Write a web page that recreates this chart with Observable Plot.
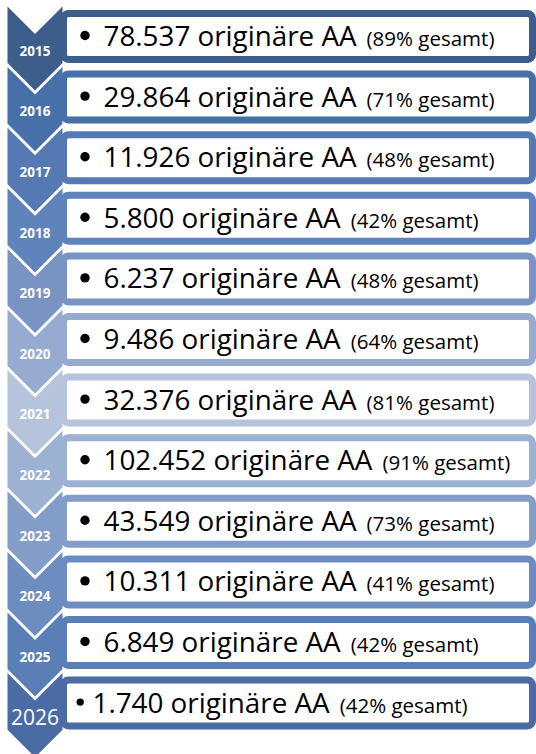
<!DOCTYPE html>
<html>
<head>
<meta charset="utf-8">
<script src="https://cdn.jsdelivr.net/npm/d3@7"></script>
<script src="https://cdn.jsdelivr.net/npm/@observablehq/plot@0.6"></script>
<style>
  html, body { margin: 0; padding: 0; background: #fff; }
  #chart svg { display: block; }
</style>
</head>
<body>
<div id="chart"></div>
<script>
// ---- data ----
const years = ["2015","2016","2017","2018","2019","2020","2021","2022","2023","2024","2025","2026"];
const originaereAA = [78537, 29864, 11926, 5800, 6237, 9486, 32376, 102452, 43549, 10311, 6849, 1740];
const anteilGesamt = [89, 71, 48, 42, 48, 64, 81, 91, 73, 41, 42, 42];

// ---- style ----
const palette = ["#3d5d8b","#4870a8","#5479b3","#5f83bb","#7993c3","#96abcf",
                 "#b5c3dc","#9db1d2","#819dc8","#6d8dc0","#5a7fb7","#4a6ba3"];
const FONT = "'Open Sans', sans-serif";
const W = 536, H = 754;
const pitch = 60.6;
const mainSize = 27.8, smallSize = 20.5;

const de = d3.formatLocale({decimal: ",", thousands: ".", grouping: [3], currency: ["", " €"]});
const fmt = de.format(",");

const rows = years.map((year, i) => ({
  i, year,
  last: i === years.length - 1,
  main: `${fmt(originaereAA[i])} originäre AA`,
  small: `(${anteilGesamt[i]}% gesamt)`
}));

// text measuring (layout only)
const ctx = document.createElement("canvas").getContext("2d");
function measure(str, size) { ctx.font = `${size}px 'Open Sans'`; return ctx.measureText(str).width; }

const chevTop = i => 6 + i * pitch;
const boxTop = i => 10 + i * pitch;
const cx1 = 7, cx2 = 62, cxm = (cx1 + cx2) / 2, notch = 27.5, sideH = pitch - 4;

rows.forEach(r => {
  r.mainX = r.last ? 92 : 103;
  r.baseY = boxTop(r.i) + 35.5;
  r.smallX = r.mainX + measure(r.main, mainSize) + 10;
  r.bulletX = r.last ? 79.7 : 84.5;
  r.bulletY = boxTop(r.i) + 25;
});

const chevronPts = rows.flatMap(r => {
  const t = chevTop(r.i);
  return [
    [cx1, t], [cxm, t + notch], [cx2, t], [cx2, t + sideH],
    [cxm, t + sideH + notch], [cx1, t + sideH], [cx1, t]
  ].map(([x, y]) => ({year: r.year, x, y}));
});

const chart = Plot.plot({
  width: W, height: H, margin: 0,
  style: {fontFamily: FONT, background: "#fff"},
  x: {domain: [0, W], range: [0, W], axis: null},
  y: {domain: [0, H], range: [0, H], axis: null},
  color: {domain: years, range: palette},
  marks: [
    Plot.rect(rows, {
      x1: 63.5, x2: 532.5,
      y1: r => boxTop(r.i) + 3.5, y2: r => boxTop(r.i) + 49.5,
      fill: "white", stroke: "year", strokeWidth: 7, rx: 5
    }),
    Plot.line(chevronPts, {x: "x", y: "y", z: "year", fill: "year", stroke: "none", curve: "linear"}),
    Plot.text(rows.filter(r => !r.last), {
      x: cxm, y: r => chevTop(r.i) + 45, text: "year",
      fill: "white", fontWeight: "bold", fontSize: 13.5
    }),
    Plot.text(rows.filter(r => r.last), {
      x: cxm, y: r => chevTop(r.i) + 45, text: "year",
      fill: "white", fontSize: 21
    }),
    Plot.dot(rows.filter(r => !r.last), {x: "bulletX", y: "bulletY", r: 4.7, fill: "black", stroke: "none"}),
    Plot.dot(rows.filter(r => r.last), {x: "bulletX", y: "bulletY", r: 3.7, fill: "black", stroke: "none"}),
    Plot.text(rows, {
      x: "mainX", y: "baseY", text: "main",
      textAnchor: "start", lineAnchor: "bottom", fontSize: mainSize, fill: "black"
    }),
    Plot.text(rows, {
      x: "smallX", y: "baseY", text: "small",
      textAnchor: "start", lineAnchor: "bottom", fontSize: smallSize, fill: "black"
    })
  ]
});
document.getElementById("chart").append(chart);
</script>
</body>
</html>
